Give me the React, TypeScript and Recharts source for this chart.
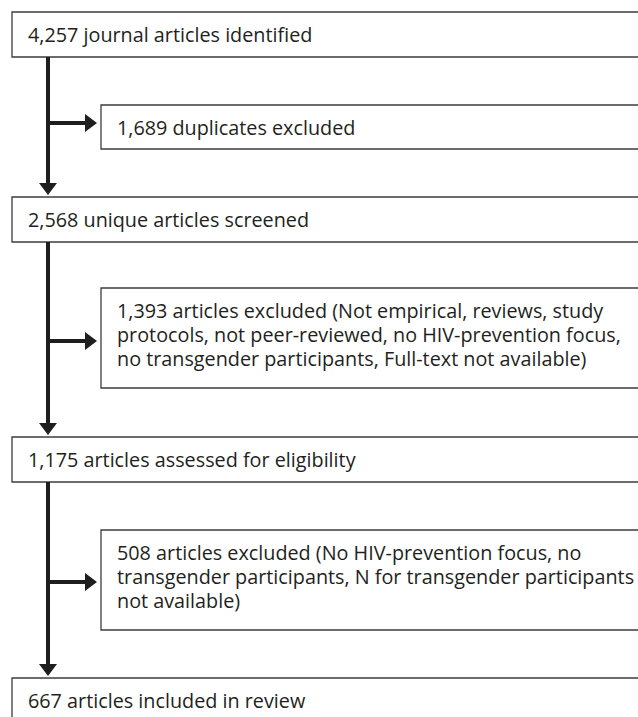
import React from 'react';
import { ComposedChart, XAxis, YAxis, ReferenceArea, ReferenceLine, Scatter } from 'recharts';

// ---- data ----
const stageCounts = [4257, 2568, 1175, 667];
const stageLabels = [
  'journal articles identified',
  'unique articles screened',
  'articles assessed for eligibility',
  'articles included in review',
];
const excludedCounts = [1689, 1393, 508];
const excludedLines = [
  ['duplicates excluded'],
  ['articles excluded (Not empirical, reviews, study', 'protocols, not peer-reviewed, no HIV-prevention focus,', 'no transgender participants, Full-text not available)'],
  ['articles excluded (No HIV-prevention focus, no', 'transgender participants, N for transgender participants', 'not available)'],
];

// ---- layout (diagram coordinate space) ----
const W = 638;
const H = 717;
const stageTop = [12, 197, 437, 678];
const stageH = 45;
const exclTop = [105, 288, 530];
const exclH = [44, 100, 100];
const branchY = [123, 341, 582];
const TRUNK_X = 48;
const MAIN_LEFT = 12;
const EXCL_LEFT = 101;
const RIGHT = 670;
const HEAD_LEN = 12;
const HEAD_W = 18;

const FONT = '"Open Sans", Lato, sans-serif';
const FONT_SIZE = 19.8;
const LINE_H = 24;
const TEXT_COLOR = '#231f20';
const BORDER = '#3c3c3c';
const ARROW = '#1e1e1e';

const fmt = (n: number) => n.toLocaleString('en-US');

const makeLabel = (lines: string[]) => (props: any) => {
  const vb = props.viewBox || {};
  const x = vb.x + 16;
  const y0 = vb.y + 29.5;
  return (
    <text x={x} y={y0} fill={TEXT_COLOR} fontFamily={FONT} fontSize={FONT_SIZE}>
      {lines.map((l, i) => (
        <tspan key={i} x={x} y={y0 + i * LINE_H}>
          {l}
        </tspan>
      ))}
    </text>
  );
};

const heads = [
  ...stageTop.slice(1).map((t) => ({ x: TRUNK_X, y: t - 2, dir: 'down' })),
  ...branchY.map((b) => ({ x: EXCL_LEFT - 4, y: b, dir: 'right' })),
];

const Head = (props: any) => {
  const { cx, cy, payload } = props;
  if (payload.dir === 'down') {
    const pts = `${cx - HEAD_W / 2},${cy - HEAD_LEN} ${cx + HEAD_W / 2},${cy - HEAD_LEN} ${cx},${cy}`;
    return <polygon points={pts} fill={ARROW} />;
  }
  const pts = `${cx - HEAD_LEN},${cy - HEAD_W / 2} ${cx - HEAD_LEN},${cy + HEAD_W / 2} ${cx},${cy}`;
  return <polygon points={pts} fill={ARROW} />;
};

export default function App() {
  return (
    <div style={{ position: 'absolute', left: 0, top: 0, background: '#fff' }}>
      <ComposedChart width={W} height={H} data={heads} margin={{ top: 0, right: 0, bottom: 0, left: 0 }}>
        <XAxis type="number" dataKey="x" domain={[0, W]} hide allowDataOverflow />
        <YAxis type="number" dataKey="y" domain={[0, H]} reversed hide allowDataOverflow />
        {stageTop.slice(0, -1).map((t, i) => (
          <ReferenceLine
            key={`trunk${i}`}
            segment={[
              { x: TRUNK_X, y: t + stageH },
              { x: TRUNK_X, y: stageTop[i + 1] - 2 - HEAD_LEN + 1 },
            ]}
            stroke={ARROW}
            strokeWidth={4}
            ifOverflow="visible"
          />
        ))}
        {branchY.map((b, i) => (
          <ReferenceLine
            key={`branch${i}`}
            segment={[
              { x: TRUNK_X, y: b },
              { x: EXCL_LEFT - 4 - HEAD_LEN + 1, y: b },
            ]}
            stroke={ARROW}
            strokeWidth={4}
            ifOverflow="visible"
          />
        ))}
        {stageTop.map((t, i) => (
          <ReferenceArea
            key={`stage${i}`}
            x1={MAIN_LEFT}
            x2={RIGHT}
            y1={t}
            y2={t + stageH}
            fill="#ffffff"
            fillOpacity={1}
            stroke={BORDER}
            strokeWidth={1.3}
            ifOverflow="visible"
            label={makeLabel([`${fmt(stageCounts[i])} ${stageLabels[i]}`])}
          />
        ))}
        {exclTop.map((t, i) => (
          <ReferenceArea
            key={`excl${i}`}
            x1={EXCL_LEFT}
            x2={RIGHT}
            y1={t}
            y2={t + exclH[i]}
            fill="#ffffff"
            fillOpacity={1}
            stroke={BORDER}
            strokeWidth={1.3}
            ifOverflow="visible"
            label={makeLabel(excludedLines[i].map((l, j) => (j === 0 ? `${fmt(excludedCounts[i])} ${l}` : l)))}
          />
        ))}
        <Scatter dataKey="y" data={heads} shape={Head} isAnimationActive={false} />
      </ComposedChart>
    </div>
  );
}
